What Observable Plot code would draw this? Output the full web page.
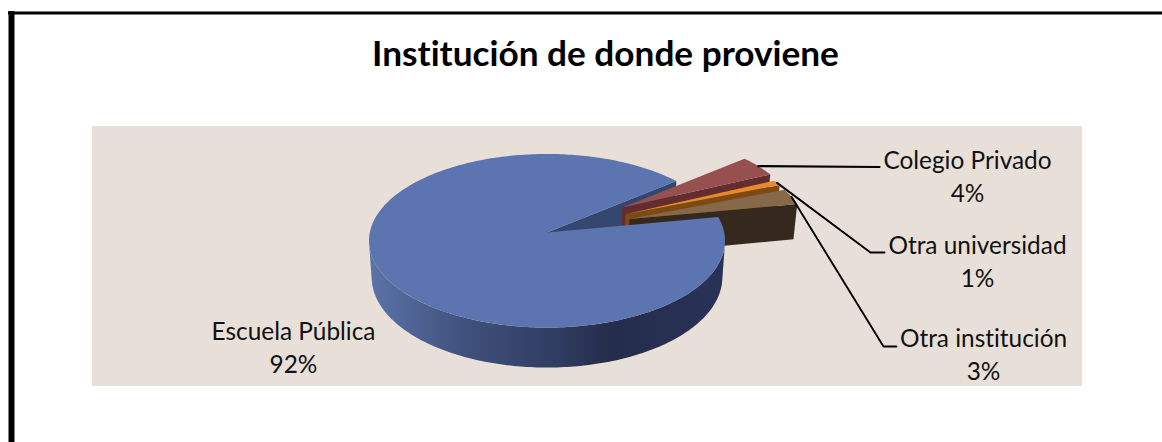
<!DOCTYPE html>
<html lang="es">
<head>
<meta charset="utf-8">
<title>Institución de donde proviene</title>
<script src="https://cdn.jsdelivr.net/npm/d3@7"></script>
<script src="https://cdn.jsdelivr.net/npm/@observablehq/plot@0.6"></script>
<style>
  html, body { margin: 0; padding: 0; background: #fff; }
  svg { display: block; }
</style>
</head>
<body>
<div id="chart"></div>
<script>
// Survey shares
const categories = ["Escuela Pública", "Colegio Privado", "Otra universidad", "Otra institución"];
const shares = [92, 4, 1, 3];
const chartTitle = "Institución de donde proviene";

// Label block centres and leader elbows, in page pixels
const labelX = [293, 967, 977, 983];
const labelY = [345, 174, 259, 352];
const leaderElbows = [
  [],
  [[879, 166.5]],
  [[870, 252], [884, 252]],
  [[883, 346], [896, 346]]
];
// How far each slice is pulled out of the disc
const pullOut = [0, 0.515, 0.49, 0.49];

const W = 1162, H = 442;
const font = "Lato, 'Open Sans', sans-serif";

// Tilted-disc projection of the pie
const cx = 546.5, cy = 232, radiusX = 177.2, radiusY = 86, persp = 0.095;
const depth = 36.2, taper = 0.015, lift = 2;
const rad = Math.PI / 180;

function project(deg, r, slice, z) {
  const ox = slice ? slice.pull * Math.cos(slice.mid * rad) : 0;
  const oy = slice ? -slice.pull * Math.sin(slice.mid * rad) : 0;
  const u = ox + r * Math.cos(deg * rad);
  const v = oy - r * Math.sin(deg * rad);
  const w = 1 / (1 - persp * v);
  return {
    x: cx + radiusX * u * w * (1 - taper * z),
    y: cy + radiusY * v * w + depth * z * w - (slice ? lift : 0)
  };
}

// Slice angles run clockwise on screen from where the large slice ends
const gapStart = 39.3;
let cursor = gapStart;
const slices = shares.map((s, i) => {
  if (i === 0) {
    const end = gapStart - 360 * (100 - s) / 100;
    return {start: end, end: gapStart - 360, mid: 0, pull: 0, exploded: false};
  }
  const start = cursor;
  cursor -= 360 * s / 100;
  return {start, end: cursor, mid: (start + cursor) / 2, pull: pullOut[i], exploded: true};
});

function arc(a0, a1, slice, z) {
  const n = Math.max(2, Math.ceil(Math.abs(a1 - a0)));
  return d3.range(n + 1).map(i => project(a0 + (a1 - a0) * i / n, 1, slice, z));
}
function topFace(s) {
  const sl = s.exploded ? s : null;
  return [project(0, 0, sl, 0), ...arc(s.start, s.end, sl, 0)];
}
function radialWall(deg, s) {
  const sl = s.exploded ? s : null;
  return [project(0, 0, sl, 0), project(deg, 1, sl, 0), project(deg, 1, sl, 1), project(0, 0, sl, 1)];
}
function rimWall(a0, a1) {
  return [...arc(a0, a1, null, 0), ...arc(a1, a0, null, 1)];
}

const face = (points, fill) => Plot.line(points, {x: "x", y: "y", fill, stroke: "none"});

const [publica, privado, universidad, institucion] = slices;

// Shading of the curved rim
const rimGradient = () => {
  const defs = d3.create("svg:defs");
  const g = defs.append("linearGradient")
    .attr("id", "rim")
    .attr("gradientUnits", "userSpaceOnUse")
    .attr("x1", 372).attr("x2", 722).attr("y1", 0).attr("y2", 0);
  [[0, "#5A72A8"], [0.28, "#3F5079"], [0.54, "#2F3B61"], [0.68, "#252D4B"], [1, "#283258"]]
    .forEach(([o, c]) => g.append("stop").attr("offset", o).attr("stop-color", c));
  return defs.node();
};

// Leaders leave the middle of each outer arc
const leaders = slices.map((s, i) => {
  if (!leaderElbows[i].length) return [];
  const start = project(s.mid, 1, s, 0);
  return [start, ...leaderElbows[i].map(([x, y]) => ({x, y}))];
});

const labels = categories.map((c, i) => ({
  text: `${c}\n${shares[i]}%`, x: labelX[i], y: labelY[i]
}));

const chart = Plot.plot({
  width: W, height: H,
  margin: 0,
  style: {background: "#fff", fontFamily: font, fontVariantLigatures: "none"},
  x: {domain: [0, W], range: [0, W], axis: null},
  y: {domain: [0, H], range: [0, H], axis: null},
  marks: [
    rimGradient,
    // page frame and backdrop
    Plot.ruleX([11], {y1: 11, y2: H, stroke: "#000", strokeWidth: 6}),
    Plot.ruleY([12.5], {x1: 8, x2: W, stroke: "#000", strokeWidth: 3}),
    Plot.rect([0], {x1: () => 92, x2: () => 1082, y1: () => 126, y2: () => 386, fill: "#E8E0D8"}),

    // cut face of the large slice, seen through the gap
    face(radialWall(publica.end + 360, publica), "#35466F"),

    // exploded slices, back to front
    face(radialWall(privado.end, privado), "#632C2E"),
    face(topFace(privado), "#95504F"),
    face(radialWall(universidad.end, universidad), "#7D4A14"),
    face(topFace(universidad), "#E8892B"),
    face(radialWall(institucion.end, institucion), "#35291E"),
    face(topFace(institucion), "#85694A"),

    // large slice on top
    face(rimWall(-7.3, -172.7), "url(#rim)"),
    face(topFace(publica), "#5C74AF"),

    // leaders and labels
    ...leaders.filter(l => l.length).map((l, i) =>
      Plot.line(l, {x: "x", y: "y", stroke: "#000", strokeWidth: i === 0 ? 2.2 : 1.9})),
    Plot.text(labels, {
      x: "x", y: "y", text: "text", textAnchor: "middle", lineHeight: 1.35,
      fontSize: 24.4, fontFamily: font, fill: "#111"
    }),
    Plot.text([chartTitle], {
      x: () => 605, y: () => 54, text: d => d, textAnchor: "middle",
      fontSize: 35.2, fontWeight: 700, fontFamily: font, fill: "#000"
    })
  ]
});
document.getElementById("chart").append(chart);
</script>
</body>
</html>
